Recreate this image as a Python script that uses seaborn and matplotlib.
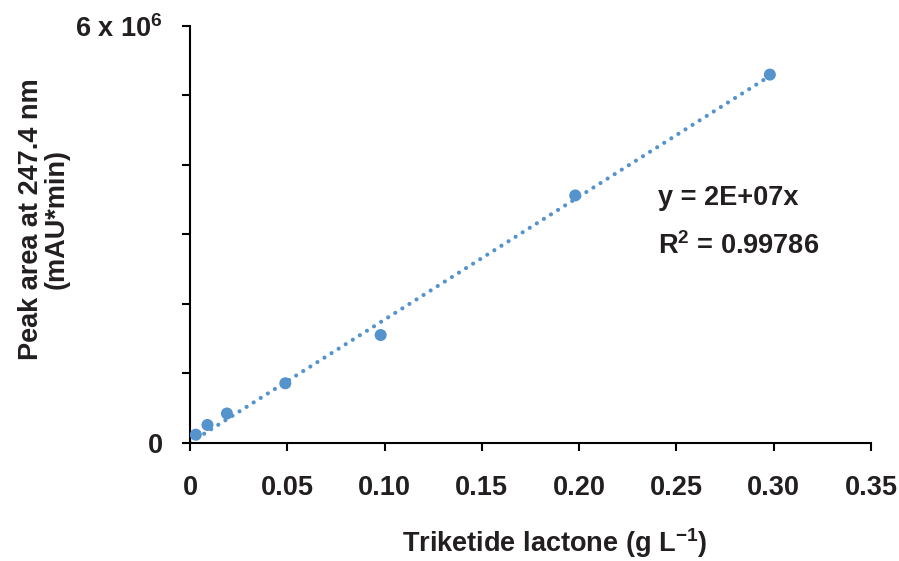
import numpy as np
import pandas as pd
import seaborn as sns
import matplotlib.pyplot as plt

# calibration data
conc = [0.003, 0.009, 0.019, 0.049, 0.098, 0.198, 0.298]
area = [0.115e6, 0.255e6, 0.42e6, 0.855e6, 1.55e6, 3.56e6, 5.3e6]

x_ticks = [0, 0.05, 0.10, 0.15, 0.20, 0.25, 0.30, 0.35]
x_ticklabels = ["0", "0.05", "0.10", "0.15", "0.20", "0.25", "0.30", "0.35"]
y_ticks = [0, 1e6, 2e6, 3e6, 4e6, 5e6, 6e6]
y_ticklabels = ["0", "", "", "", "", "", r"6 x 10$^{6}$"]

eq_text = "y = 2E+07x"
r2_text = r"R$^{2}$ = 0.99786"

df = pd.DataFrame({"conc": conc, "area": area})

# trendline through origin
x = np.array(conc)
y = np.array(area)
slope = (x * y).sum() / (x * x).sum()
trend = pd.DataFrame({"conc": [0, x.max()], "area": [0, slope * x.max()]})

sns.set_style("ticks")
plt.rcParams["font.family"] = ["Liberation Sans", "DejaVu Sans"]
plt.rcParams["font.weight"] = "bold"
plt.rcParams["mathtext.default"] = "regular"

color = "#5593CC"
txt = "#231F20"
fs = 19.5

fig = plt.figure(figsize=(8.99, 5.61), dpi=100)
ax = fig.add_axes([0.2113, 0.2109, 0.7576, 0.7428])

sns.lineplot(data=trend, x="conc", y="area", ax=ax, color=color,
             linewidth=3.0, linestyle=(0, (0.01, 2)), dash_capstyle="round")
sns.scatterplot(data=df, x="conc", y="area", ax=ax, color=color,
                s=75, edgecolor="none", zorder=3)

ax.set_xlim(0, 0.35)
ax.set_ylim(0, 6e6)
ax.set_xticks(x_ticks)
ax.set_xticklabels(x_ticklabels)
ax.set_yticks(y_ticks)
ax.set_yticklabels(y_ticklabels)

for s in ["top", "right"]:
    ax.spines[s].set_visible(False)
for s in ["left", "bottom"]:
    ax.spines[s].set_linewidth(1.5)
    ax.spines[s].set_color("black")

ax.tick_params(axis="x", direction="out", length=5.5, width=1.5,
               labelsize=fs, pad=18, colors="black")
ax.tick_params(axis="y", direction="out", length=5.5, width=1.5,
               labelsize=fs, pad=14, colors="black")
for lab in ax.get_xticklabels() + ax.get_yticklabels():
    lab.set_fontweight("bold")
    lab.set_color(txt)

ax.set_xlabel(r"Triketide lactone (g L$^{-1}$)", fontsize=fs,
              fontweight="bold", color=txt)
ax.set_ylabel("Peak area at 247.4 nm\n(mAU*min)", fontsize=fs,
              fontweight="bold", color=txt, linespacing=1.0)
ax.xaxis.set_label_coords(0.536, -0.2)
ax.yaxis.set_label_coords(-0.176, 0.537)

ax.text(0.2405, 3.52e6, eq_text, fontsize=fs, fontweight="bold",
        color=txt, va="center", ha="left")
ax.text(0.2405, 2.83e6, r2_text, fontsize=fs, fontweight="bold",
        color=txt, va="center", ha="left")

fig.savefig("out.png", dpi=100)
